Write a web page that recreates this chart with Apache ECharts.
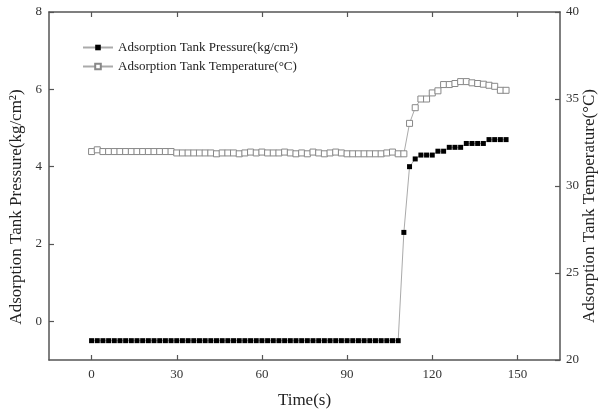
<!DOCTYPE html>
<html><head><meta charset="utf-8">
<script src="https://cdn.jsdelivr.net/npm/echarts@6/dist/echarts.min.js"></script>
<style>html,body{margin:0;padding:0;background:#fff}#c{width:600px;height:414px}</style>
</head><body><div id="c"></div>
<script>
const time = [0,2,4,6,8,10,12,14,16,18,20,22,24,26,28,30,32,34,36,38,40,42,44,46,48,50,52,54,56,58,60,62,64,66,68,70,72,74,76,78,80,82,84,86,88,90,92,94,96,98,100,102,104,106,108,110,112,114,116,118,120,122,124,126,128,130,132,134,136,138,140,142,144,146];
const pressure = [-0.5,-0.5,-0.5,-0.5,-0.5,-0.5,-0.5,-0.5,-0.5,-0.5,-0.5,-0.5,-0.5,-0.5,-0.5,-0.5,-0.5,-0.5,-0.5,-0.5,-0.5,-0.5,-0.5,-0.5,-0.5,-0.5,-0.5,-0.5,-0.5,-0.5,-0.5,-0.5,-0.5,-0.5,-0.5,-0.5,-0.5,-0.5,-0.5,-0.5,-0.5,-0.5,-0.5,-0.5,-0.5,-0.5,-0.5,-0.5,-0.5,-0.5,-0.5,-0.5,-0.5,-0.5,-0.5,
  2.3,4.0,4.2,4.3,4.3,4.3,4.4,4.4,4.5,4.5,4.5,4.6,4.6,4.6,4.6,4.7,4.7,4.7,4.7];
const temperature = [31.98,32.08,31.98,31.98,31.98,31.98,31.98,31.98,31.98,31.98,31.98,31.98,31.98,31.98,31.98,
  31.9,31.9,31.9,31.9,31.9,31.9,31.9,31.85,31.9,31.9,31.9,31.85,31.9,31.95,31.9,31.95,31.9,31.9,31.9,31.95,31.9,
  31.85,31.9,31.85,31.95,31.9,31.85,31.9,31.95,31.9,31.85,31.85,31.85,31.85,31.85,31.85,31.85,31.9,31.95,31.85,31.85,
  33.6,34.5,35.0,35.0,35.35,35.47,35.83,35.83,35.89,36.0,36.0,35.93,35.89,35.85,35.79,35.73,35.5,35.5];
const xTicks = [0,30,60,90,120,150];
const leftTicks = [0,2,4,6,8];
const seriesNames = ['Adsorption Tank Pressure(kg/cm\u00B2)','Adsorption Tank Temperature(\u00B0C)'];
const axisNames = {x:'Time(s)', left:'Adsorption Tank Pressure(kg/cm\u00B2)', right:'Adsorption Tank Temperature(\u00B0C)'};

const font = '"Liberation Serif", "DejaVu Serif", serif';
const axisColor = '#555';
const lineCommon = {show:true, onZero:false, lineStyle:{color:axisColor, width:1.5}};
const tickCommon = {show:true, inside:true, length:5, lineStyle:{color:axisColor, width:1.2}};
const labelStyle = {color:'#333', fontFamily:font, fontSize:13};

const chart = echarts.init(document.getElementById('c'), null, {renderer:'canvas'});
chart.setOption({
  backgroundColor:'#fff',
  animation:false,
  grid:{left:49, right:40, top:12, bottom:52},
  legend:{
    orient:'vertical', left:77, top:36, itemWidth:30, itemHeight:7, itemGap:6,
    textStyle:{fontFamily:font, fontSize:13, color:'#222'},
    data:seriesNames
  },
  xAxis:[{
    type:'value', min:-15, max:165, position:'bottom',
    name:axisNames.x, nameLocation:'middle', nameGap:32,
    nameTextStyle:{fontFamily:font, fontSize:17, color:'#222'},
    axisLine:lineCommon,
    axisTick:Object.assign({}, tickCommon, {customValues:xTicks}),
    axisLabel:Object.assign({}, labelStyle, {customValues:xTicks, margin:8}),
    splitLine:{show:false}
  },{
    type:'value', min:-15, max:165, position:'top',
    axisLine:lineCommon,
    axisTick:Object.assign({}, tickCommon, {customValues:xTicks}),
    axisLabel:{show:false},
    splitLine:{show:false}
  }],
  yAxis:[{
    type:'value', min:-1, max:8, position:'left',
    axisLine:lineCommon,
    axisTick:Object.assign({}, tickCommon, {customValues:leftTicks}),
    axisLabel:Object.assign({}, labelStyle, {customValues:leftTicks, margin:7}),
    splitLine:{show:false}
  },{
    type:'value', min:20, max:40, interval:5, position:'right',
    axisLine:lineCommon,
    axisTick:tickCommon,
    axisLabel:Object.assign({}, labelStyle, {margin:6}),
    splitLine:{show:false}
  }],
  graphic:[
    {type:'text', x:17, y:207, rotation:Math.PI/2,
     style:{text:axisNames.left, font:'17px '+font, fill:'#222', textAlign:'center', textVerticalAlign:'middle'}},
    {type:'text', x:590, y:206, rotation:Math.PI/2,
     style:{text:axisNames.right, font:'17px '+font, fill:'#222', textAlign:'center', textVerticalAlign:'middle'}}
  ],
  series:[{
    name:seriesNames[0], type:'line', xAxisIndex:0, yAxisIndex:0,
    data:time.map((t,i)=>[t,pressure[i]]),
    symbol:'rect', symbolSize:5,
    itemStyle:{color:'#000', borderWidth:0},
    lineStyle:{color:'#aaa', width:1},
    z:3
  },{
    name:seriesNames[1], type:'line', xAxisIndex:0, yAxisIndex:1,
    data:time.map((t,i)=>[t,temperature[i]]),
    symbol:'rect', symbolSize:6,
    itemStyle:{color:'#fff', borderColor:'#888', borderWidth:1},
    lineStyle:{color:'#aaa', width:1},
    z:2
  }]
});
</script></body></html>
